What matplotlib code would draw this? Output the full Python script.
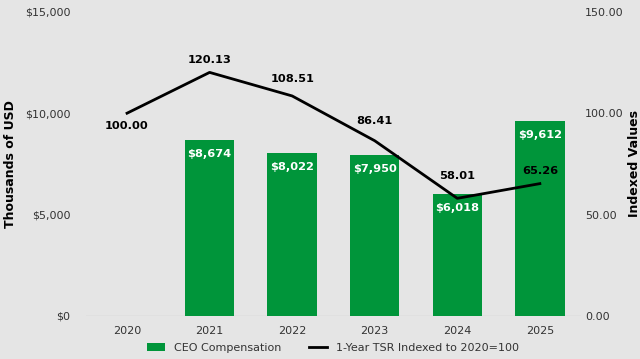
import matplotlib
matplotlib.use("Agg")
import matplotlib.pyplot as plt
from matplotlib.ticker import FuncFormatter

years = ["2020", "2021", "2022", "2023", "2024", "2025"]
ceo_comp = [None, 8674, 8022, 7950, 6018, 9612]
tsr = [100.00, 120.13, 108.51, 86.41, 58.01, 65.26]

BG = "#e5e5e5"
GREEN = "#00953a"

fig = plt.figure(figsize=(6.4, 3.59), dpi=100, facecolor=BG)
ax = fig.add_axes([0.134, 0.12, 0.774, 0.847], facecolor=BG)
ax2 = ax.twinx()

x = list(range(len(years)))
bx = [i for i, v in zip(x, ceo_comp) if v is not None]
bv = [v for v in ceo_comp if v is not None]
ax.bar(bx, bv, width=0.6, color=GREEN, label="CEO Compensation", zorder=2)
for i, v in zip(bx, bv):
    ax.annotate(f"${v:,.0f}", (i, v), textcoords="offset points",
                xytext=(0, -10), ha="center", va="center", color="white",
                fontsize=8.2, fontweight="bold")

ax.set_ylim(0, 15000)
ax.set_xlim(-0.5, len(years) - 0.5)
ax.set_yticks([0, 5000, 10000, 15000])
ax.yaxis.set_major_formatter(FuncFormatter(lambda v, p: f"${v:,.0f}"))
ax.set_xticks(x)
ax.set_xticklabels(years)
ax.set_ylabel("Thousands of USD", fontsize=9, fontweight="bold", labelpad=6)
ax.axhline(0, color="#cfcfcf", lw=1, zorder=1)

ax2.plot(x, tsr, color="black", lw=2, label="1-Year TSR Indexed to 2020=100",
         zorder=3)
offs = [-9, 9, 12, 14, 16, 9]
for i, v, o in zip(x, tsr, offs):
    ax2.annotate(f"{v:.2f}", (i, v), textcoords="offset points",
                 xytext=(0, o), ha="center", va="center", color="black",
                 fontsize=8.2, fontweight="bold")
ax2.set_ylim(0, 150)
ax2.set_yticks([0, 50, 100, 150])
ax2.yaxis.set_major_formatter(FuncFormatter(lambda v, p: f"{v:.2f}"))
ax2.set_ylabel("Indexed Values", fontsize=9, fontweight="bold", labelpad=3)

for a in (ax, ax2):
    for s in a.spines.values():
        s.set_visible(False)
    a.tick_params(length=0, labelsize=8, colors="#333333")
ax.tick_params(axis="y", pad=11)
ax2.tick_params(axis="y", pad=3)
ax.tick_params(axis="x", pad=7)

h1, l1 = ax.get_legend_handles_labels()
h2, l2 = ax2.get_legend_handles_labels()
fig.legend(h1 + h2, l1 + l2, loc="lower center", ncol=2, frameon=False,
           fontsize=8, bbox_to_anchor=(0.52, -0.01), handlelength=1.6,
           columnspacing=2.5, labelcolor="#333333")

fig.savefig("out.png", dpi=100, facecolor=BG)
